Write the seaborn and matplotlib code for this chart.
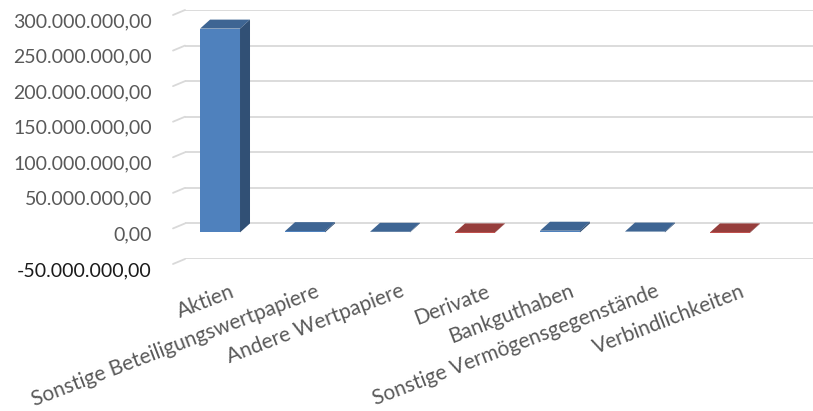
import numpy as np
import pandas as pd
import matplotlib
matplotlib.use("Agg")
import matplotlib.pyplot as plt
import seaborn as sns
from matplotlib.patches import Polygon
from matplotlib.ticker import FuncFormatter
from matplotlib.transforms import ScaledTranslation

# Daten
kategorien = [
    "Aktien",
    "Sonstige Beteiligungswertpapiere",
    "Andere Wertpapiere",
    "Derivate",
    "Bankguthaben",
    "Sonstige Vermögensgegenstände",
    "Verbindlichkeiten",
]
werte = [286_500_000, 1_800_000, 900_000, -400_000, 2_400_000, 1_200_000, -700_000]
y_ticks = [-50e6, 0, 50e6, 100e6, 150e6, 200e6, 250e6, 300e6]

df = pd.DataFrame({"Kategorie": kategorien, "Wert": werte})
df["Vorzeichen"] = np.where(df["Wert"] >= 0, "positiv", "negativ")

blau = "#4f81bd"
rot = "#c0504d"
grid_farbe = "#d9d9d9"
text_farbe = "#595959"

sns.set_theme(style="white")
plt.rcParams["font.family"] = ["Lato", "DejaVu Sans"]

fig = plt.figure(figsize=(8.13, 4.11), dpi=100)
ax = fig.add_axes([185 / 813, 152 / 411, 628 / 813, 249 / 411])

sns.barplot(
    data=df,
    x="Kategorie",
    y="Wert",
    hue="Vorzeichen",
    palette={"positiv": blau, "negativ": rot},
    dodge=False,
    width=0.47,
    saturation=1,
    legend=False,
    linewidth=0,
    ax=ax,
)

ax.set_xlim(-0.53, 6.86)
ax.set_ylim(-50e6, 300e6)
ax.set_yticks(y_ticks)
ax.yaxis.grid(True, color=grid_farbe, lw=1.3)
ax.xaxis.grid(False)
ax.set_axisbelow(True)
for s in ax.spines.values():
    s.set_visible(False)
ax.set_xlabel("")
ax.set_ylabel("")

# Pixel -> Dateneinheiten fuer die 3D-Tiefe
p0 = ax.transData.transform((0, 0))
px_x = ax.transData.transform((1, 0))[0] - p0[0]
px_y = ax.transData.transform((0, 1e6))[1] - p0[1]
dxd = 10 / px_x
dyd = 9 / px_y * 1e6


def dunkler(farbe, f):
    r, g, b, a = farbe
    return (r * f, g * f, b * f, 1)


for p in list(ax.patches):
    h = p.get_height()
    if np.isnan(h):
        continue
    x0, y0, w = p.get_x(), p.get_y(), p.get_width()
    top = max(y0, y0 + h)
    bot = min(y0, y0 + h)
    fc = p.get_facecolor()
    # Deckflaeche
    ax.add_patch(Polygon(
        [(x0 - dxd, top - dyd), (x0 + w - dxd, top - dyd), (x0 + w, top), (x0, top)],
        closed=True, facecolor=dunkler(fc, 0.78), lw=0, zorder=3, clip_on=False))
    # Seitenflaeche
    ax.add_patch(Polygon(
        [(x0 + w - dxd, bot - dyd), (x0 + w, bot), (x0 + w, top), (x0 + w - dxd, top - dyd)],
        closed=True, facecolor=dunkler(fc, 0.62), lw=0, zorder=3, clip_on=False))
    # Vorderseite nach vorne schieben
    p.set_x(x0 - dxd)
    p.set_y(y0 - dyd)
    p.set_zorder(4)
    p.set_clip_on(False)

# Seitenwand-Stummel links an den Gitterlinien
xl0 = ax.get_xlim()[0]
for v in y_ticks:
    ax.plot([xl0, xl0 - 12 / px_x], [v, v - 5 / px_y * 1e6],
            color=grid_farbe, lw=1.3, clip_on=False, zorder=1)


def deutsch(v, pos):
    s = f"{v:,.2f}"
    return s.replace(",", "X").replace(".", ",").replace("X", ".")


ax.yaxis.set_major_formatter(FuncFormatter(deutsch))
ax.tick_params(axis="y", length=0, pad=23.8, labelsize=14, labelcolor=text_farbe)
verschiebung = ScaledTranslation(0, -0.10, fig.dpi_scale_trans)
for lab in ax.get_yticklabels():
    lab.set_transform(lab.get_transform() + verschiebung)
ax.get_yticklabels()[0].set_color("#1a1a1a")

ax.set_xticks(range(len(kategorien)))
ax.set_xticklabels(kategorien, rotation=21, ha="right", rotation_mode="anchor")
ax.tick_params(axis="x", length=0, pad=16, labelsize=15, labelcolor=text_farbe)

fig.savefig("out.png", dpi=100)
